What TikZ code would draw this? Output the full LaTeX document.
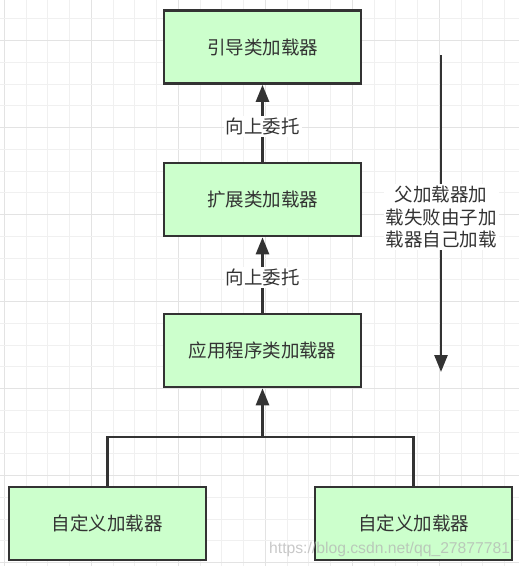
\documentclass[tikz,border=0pt]{standalone}
\usepackage{fontspec}
\setmainfont{Noto Sans CJK SC}
\newfontfamily\wmfont{Liberation Sans}
\usetikzlibrary{arrows.meta}
\definecolor{boxfill}{HTML}{CCFFCC}
\definecolor{ink}{HTML}{333333}
\definecolor{gridminor}{HTML}{F0F0F0}
\definecolor{gridmajor}{HTML}{E3E3E3}
\begin{document}
\begin{tikzpicture}[x=1pt,y=-1pt,
  loader/.style={draw=ink, line width=2.6pt, fill=boxfill, minimum width=197pt, minimum height=73pt, inner sep=0pt, text=ink, font=\fontsize{18.5}{22}\selectfont},
  conn/.style={draw=ink, line width=2.6pt},
  uparrow/.style={conn, -{Triangle[length=17pt,width=13pt]}},
  lbl/.style={fill=white, text=ink, inner sep=2pt, font=\fontsize{18.5}{22.6}\selectfont, align=center},
  gminor/.style={draw=gridminor, line width=1pt},
  gmajor/.style={draw=gridmajor, line width=1pt}]
\useasboundingbox (0,0) rectangle (519,566);
\fill[white] (0,0) rectangle (519,566);
% grid
\foreach \i in {0,...,23}{
  \pgfmathtruncatemacro{\m}{mod(\i,4)}
  \pgfmathsetmacro{\gx}{4.3+\i*21.75}
  \ifnum\m=0 \draw[gmajor] (\gx,0) -- (\gx,566); \else \draw[gminor] (\gx,0) -- (\gx,566); \fi
}
\foreach \j in {1,...,26}{
  \pgfmathtruncatemacro{\m}{mod(\j,4)}
  \pgfmathsetmacro{\gy}{-2.8+\j*21.75}
  \ifnum\m=2 \draw[gmajor] (0,\gy) -- (519,\gy); \else \draw[gminor] (0,\gy) -- (519,\gy); \fi
}
% boxes
\node[loader] (boot) at (262.5,47) {引导类加载器};
\node[loader] (ext) at (262.5,199.5) {扩展类加载器};
\node[loader] (app) at (262.5,350.5) {应用程序类加载器};
\node[loader] (cus1) at (107.5,523.5) {自定义加载器};
\node[loader] (cus2) at (413.5,523.5) {自定义加载器};
% connectors
\draw[uparrow] (ext) -- node[lbl,pos=0.46]{向上委托} (boot);
\draw[uparrow] (app) -- node[lbl,pos=0.47]{向上委托} (ext);
\coordinate (join) at (262.5,437);
\draw[conn] (cus1.north) |- (join) -| (cus2.north);
\draw[uparrow] (join) -- (app);
\coordinate (ftop) at (441,55);
\coordinate (fbot) at (441,372);
\draw[uparrow] (ftop) -- node[lbl,pos=0.511]{父加载器加\\载失败由子加\\载器自己加载} (fbot);
% watermark
\node[anchor=base west, inner sep=0pt, text=gray!60, opacity=0.7, font=\wmfont\fontsize{15.7}{18}\selectfont] (wm) at (269,553) {https://blog.csdn.net/qq\_27877781};
\end{tikzpicture}
\end{document}
